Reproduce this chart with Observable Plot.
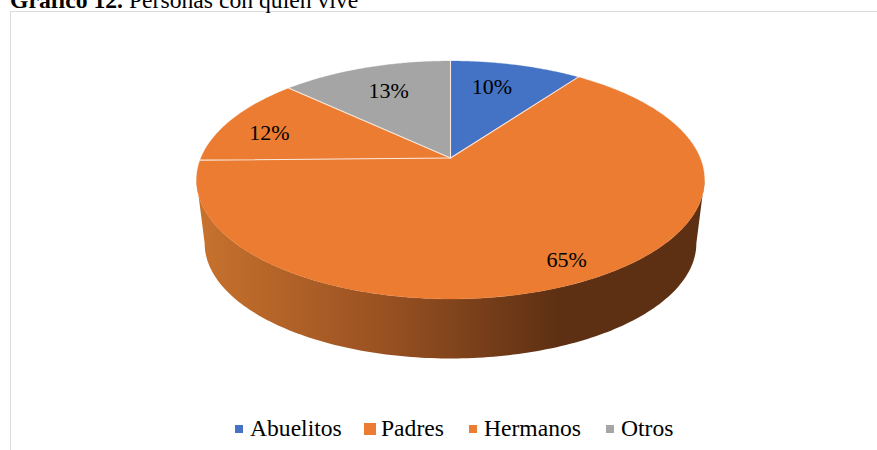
<!DOCTYPE html>
<html lang="es">
<head>
<meta charset="utf-8">
<script src="https://cdn.jsdelivr.net/npm/d3@7"></script>
<script src="https://cdn.jsdelivr.net/npm/@observablehq/plot@0.6"></script>
<style>
  html, body { margin: 0; padding: 0; background: #fff; overflow: hidden; }
  body { position: relative; width: 877px; height: 450px; font-family: "Liberation Serif", serif; color: #000; }
  #frame { position: absolute; left: 10px; top: 11px; right: 0; bottom: 0; border-left: 1.5px solid #dcdcdc; border-top: 1.5px solid #dcdcdc; }
  #title { position: absolute; left: 10px; top: -13px; font-size: 23.67px; line-height: 27px; white-space: nowrap; }
  #chart { position: absolute; left: 0; top: 0; }
  #chart svg { display: block; background: transparent; }
  #legend { position: absolute; left: 0; top: 414px; width: 877px; height: 28px; font-size: 23.6px; line-height: 28px; }
  #legend span { position: absolute; white-space: nowrap; }
  #legend i { position: absolute; display: block; }
</style>
</head>
<body>
<div id="frame"></div>
<div id="title"><b>Gráfico 12.</b> Personas con quién vive</div>
<div id="chart"></div>
<div id="legend"></div>
<script>
const categories = ["Abuelitos", "Padres", "Hermanos", "Otros"];
const values = [10, 64.7, 12.3, 13];
const colors = ["#4472c4", "#eb7c31", "#eb7c31", "#a5a5a5"];

// Layout of the tilted disc
const tilt = {a: 249.6, b: 114.9, k: 0.1849, lowerScale: 0.968, depth: 64};
const labelReach = [[0.63, 0.76], [0.842, 0.84], [0.829, 0.64], [0.73, 0.745]];
const legendLayout = [
  {swatch: 235, size: 8, text: 250}, {swatch: 364, size: 12, text: 381},
  {swatch: 469, size: 8, text: 484}, {swatch: 606, size: 8, text: 621}
];
const wallStops = [
  {offset: 0, color: "#c8722d"},
  {offset: 0.36, color: "#9a5222"},
  {offset: 0.71, color: "#5e3013"},
  {offset: 1, color: "#5e3013"}
];

const rad = (deg) => deg * Math.PI / 180;
const rim = (deg) => {
  const t = rad(deg), w = 1 + tilt.k * Math.cos(t);
  return {X: tilt.a * Math.sin(t) / w, Y: tilt.b * Math.cos(t) / w};
};
const lower = (p) => ({X: p.X * tilt.lowerScale, Y: p.Y * tilt.lowerScale - tilt.depth});

const total = d3.sum(values);
const edges = [0, ...d3.cumsum(values).map((v) => v / total * 360)];

// Top faces
const topFaces = categories.flatMap((name, i) => {
  const start = edges[i], end = edges[i + 1];
  const angles = d3.range(start, end, 0.5).concat(end);
  return [{X: 0, Y: 0}, ...angles.map(rim), {X: 0, Y: 0}].map((p) => ({...p, name, fill: colors[i]}));
});

// Side wall: between the widest points of the rim, front of the upper rim and back along the lower rim
const widest = Math.acos(-tilt.k) * 180 / Math.PI;
const wallAngles = d3.range(widest, 360 - widest, 1).concat(360 - widest);
const wall = [...wallAngles.map(rim), ...wallAngles.slice().reverse().map((d) => lower(rim(d)))];

// Slice separators
const separators = edges.slice(0, -1).flatMap((deg, i) =>
  [{X: 0, Y: 0}, rim(deg)].map((p) => ({...p, edge: i})));

const labels = categories.map((name, i) => {
  const p = rim((edges[i] + edges[i + 1]) / 2);
  return {X: p.X * labelReach[i][0], Y: p.Y * labelReach[i][1], text: d3.format(".0f")(values[i]) + "%"};
});

// Horizontal shading of the wall, spanning the disc's width
const wallGradient = (index, scales) => {
  const g = d3.create("svg:linearGradient")
    .attr("id", "wall-shade")
    .attr("gradientUnits", "userSpaceOnUse")
    .attr("x1", scales.x(-tilt.a / Math.sqrt(1 - tilt.k * tilt.k)))
    .attr("x2", scales.x(tilt.a / Math.sqrt(1 - tilt.k * tilt.k)))
    .attr("y1", 0).attr("y2", 0);
  wallStops.forEach((s) => g.append("stop").attr("offset", s.offset).attr("stop-color", s.color));
  const defs = d3.create("svg:defs");
  defs.append(() => g.node());
  return defs.node();
};

const plot = Plot.plot({
  width: 877, height: 450,
  marginTop: 0, marginRight: 0, marginBottom: 0, marginLeft: 0,
  x: {domain: [-450, 427], range: [0, 877], axis: null},
  y: {domain: [157.5, -292.5], range: [0, 450], axis: null},
  color: {type: "identity"},
  style: {background: "transparent"},
  marks: [
    wallGradient,
    Plot.line(wall, {x: "X", y: "Y", fill: "url(#wall-shade)", stroke: "none", curve: "linear"}),
    Plot.line(topFaces, {x: "X", y: "Y", z: "name", fill: "fill", stroke: "fill", strokeWidth: 0.3, curve: "linear"}),
    Plot.line(separators, {x: "X", y: "Y", z: "edge", stroke: "#fbe9dd", strokeWidth: 1.1, curve: "linear"}),
    Plot.text(labels, {x: "X", y: "Y", text: "text", fontFamily: "Liberation Serif", fontSize: 22, fill: "#000"})
  ]
});
document.getElementById("chart").append(plot);

const legend = d3.select("#legend");
categories.forEach((name, i) => {
  const l = legendLayout[i];
  legend.append("i").style("left", l.swatch + "px").style("top", (14.5 - l.size / 2) + "px")
    .style("width", l.size + "px").style("height", l.size + "px").style("background", colors[i]);
  legend.append("span").style("left", l.text + "px").style("top", "0").text(name);
});
</script>
</body>
</html>
